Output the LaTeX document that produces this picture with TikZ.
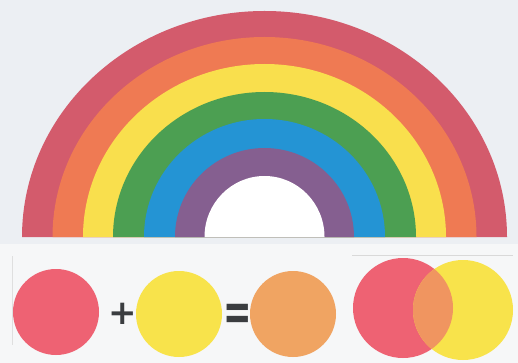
\documentclass[tikz,border=0pt]{standalone}
\usepackage{fontspec}
\setsansfont{DejaVu Sans}
\usepackage{tikz}
\usetikzlibrary{positioning, calc}

\definecolor{paper}{HTML}{F6F7F8}
\definecolor{paperTop}{HTML}{ECEFF3}
\definecolor{bandRed}{HTML}{D35B6C}
\definecolor{bandOrange}{HTML}{EF7A53}
\definecolor{bandYellow}{HTML}{F9DF4D}
\definecolor{bandGreen}{HTML}{4C9F52}
\definecolor{bandBlue}{HTML}{2494D4}
\definecolor{bandPurple}{HTML}{855F90}
\definecolor{ballRed}{HTML}{EE6273}
\definecolor{ballYellow}{HTML}{F8E34B}
\definecolor{ballOrange}{HTML}{F0A462}
\definecolor{mixOrange}{HTML}{F09560}
\definecolor{signGray}{HTML}{3A3D40}

\begin{document}
\begin{tikzpicture}[x=1pt,y=-1pt,
    ball_node/.style={circle, inner sep=0pt, minimum size=86pt},
    big_ball/.style={circle, inner sep=0pt, minimum size=100pt},
    sign_node/.style={inner sep=0pt, text=signGray, font=\sffamily\bfseries\fontsize{34}{34}\selectfont},
    ]
    % Background
    \useasboundingbox (0,0) rectangle (518,363);
    \fill[paper] (0,0) rectangle (518,363);
    \fill[paperTop] (0,0) rectangle (518,244);

    % Rainbow bands (outer to inner)
    \fill[bandRed]    (264.5,237) ++(-242.5,0) arc[start angle=180, end angle=360, x radius=242.5, y radius=226] -- cycle;
    \fill[bandOrange] (264.5,237) ++(-212,0) arc[start angle=180, end angle=360, x radius=212, y radius=200] -- cycle;
    \fill[bandYellow] (264.5,237) ++(-181.5,0) arc[start angle=180, end angle=360, x radius=181.5, y radius=173] -- cycle;
    \fill[bandGreen]  (264.5,237) ++(-151.5,0) arc[start angle=180, end angle=360, x radius=151.5, y radius=145] -- cycle;
    \fill[bandBlue]   (264.5,237) ++(-120.5,0) arc[start angle=180, end angle=360, x radius=120.5, y radius=118] -- cycle;
    \fill[bandPurple] (264.5,237) ++(-89.5,0) arc[start angle=180, end angle=360, x radius=89.5, y radius=89] -- cycle;
    \fill[white]      (264.5,237) ++(-60,0) arc[start angle=180, end angle=360, x radius=60, y radius=61] -- cycle;

    % Faint scan lines
    \draw[gray!25, line width=0.8pt] (12,256) -- (12,345);
    \draw[gray!30, line width=0.8pt] (352,255) -- (513,255);

    % Colour sum
    \node[ball_node, fill=ballRed] (red) at (56,312) {};
    \node[ball_node, fill=ballYellow] (yellow) at (179,314) {};
    \node[ball_node, fill=ballOrange] (orange) at (293,314) {};
    \node[sign_node] (plus) at ($(red.east)!0.5!(yellow.west)+(5,1)$) {+};
    \node[sign_node, yscale=1.6] (equals) at ($(yellow.east)!0.5!(orange.west)+(2,3)$) {=};

    % Overlapping circles
    \node[big_ball, fill=ballRed] (redBig) at (403,308) {};
    \node[big_ball, fill=ballYellow] (yellowBig) at (463,310) {};
    \begin{scope}
        \clip (403,308) circle[radius=50];
        \fill[mixOrange] (463,310) circle[radius=50];
    \end{scope}
\end{tikzpicture}
\end{document}
